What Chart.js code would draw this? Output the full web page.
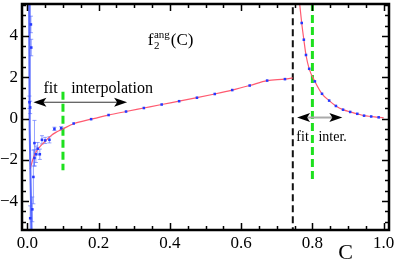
<!DOCTYPE html>
<html>
<head>
<meta charset="utf-8">
<script src="https://cdn.jsdelivr.net/npm/chart.js@4.4.0/dist/chart.umd.min.js"></script>
<style>
  html, body { margin: 0; padding: 0; background: #fff; }
  canvas { display: block; }
</style>
</head>
<body>
<canvas id="chart" width="395" height="262"></canvas>
<script>
// axis ticks
const xTicks = [0, 0.2, 0.4, 0.6, 0.8, 1.0];
const yTicks = [-4, -2, 0, 2, 4];

// steep blue fit close to C = 0
const blueFitC = [0.005, 0.006, 0.007, 0.009, 0.012];
const blueFitF = [5.6, 2.5, -0.5, -3.0, -5.5];

// measured points near C = 0 (with error bars)
const lowC = [0.010, 0.011, 0.008, 0.006, 0.020, 0.020, 0.024, 0.029, 0.035, 0.041, 0.050, 0.062, 0.017, 0.014, 0.008, 0.076, 0.095];
const lowF = [4.56, 3.44, 0.54, 0.79, -1.19, -1.91, -1.73, -1.46, -1.73, -1.03, -1.06, -1.03, -2.83, -4.40, -4.83, -0.50, -0.47];
const lowErr = [0.4, 0.4, 0.3, 0.3, 1.1, 0.4, 0.4, 0.3, 0.25, 0.2, 0.15, 0.15, 1.3, 0.6, 0.6, 0.08, 0.08];

// interpolation points
const midC = [0.130, 0.179, 0.228, 0.277, 0.327, 0.377, 0.426, 0.476, 0.526, 0.575, 0.624, 0.673, 0.723];
const midF = [-0.24, -0.03, 0.17, 0.34, 0.51, 0.68, 0.84, 1.01, 1.19, 1.38, 1.60, 1.84, 1.91];

// red fit + interpolation, left of the transition
const redLeftC = [0.008, 0.015, 0.025, 0.036, 0.050, 0.065, 0.080, 0.100, 0.130, 0.179, 0.228, 0.277, 0.327, 0.377, 0.426, 0.476, 0.526, 0.575, 0.624, 0.673, 0.723, 0.745];
const redLeftF = [-2.45, -2.0, -1.6, -1.35, -1.1, -0.85, -0.67, -0.50, -0.25, -0.03, 0.17, 0.34, 0.51, 0.68, 0.84, 1.01, 1.19, 1.38, 1.60, 1.84, 1.91, 1.97];

// right of the transition
const rightC = [0.770, 0.776, 0.782, 0.791, 0.807, 0.827, 0.847, 0.866, 0.886, 0.906, 0.926, 0.945, 0.965, 0.986];
const rightF = [4.63, 3.82, 3.08, 2.41, 1.80, 1.20, 0.87, 0.61, 0.43, 0.32, 0.23, 0.14, 0.10, 0.06];
const redRightC = [0.764, 0.770, 0.776, 0.782, 0.791, 0.807, 0.827, 0.847, 0.866, 0.886, 0.906, 0.926, 0.945, 0.965, 0.986, 1.000];
const redRightF = [5.60, 4.63, 3.82, 3.08, 2.41, 1.80, 1.20, 0.87, 0.61, 0.43, 0.32, 0.23, 0.14, 0.10, 0.06, 0.03];

// vertical markers
const transitionC = 0.745;
const greenC = [0.1, 0.8];
const greenTop = [1.3, 5.6];
const greenBottom = [-2.5, -3.0];

const serif = "'Liberation Serif', 'DejaVu Serif', serif";
const pts = (xs, ys) => xs.map((x, i) => ({ x: x, y: ys[i] }));

const decor = {
  id: 'decor',
  beforeDatasetsDraw(chart) {
    const { ctx } = chart;
    const xs = chart.scales.x, ys = chart.scales.y;
    ctx.save();
    ctx.strokeStyle = 'rgba(90,110,255,0.65)';
    ctx.lineWidth = 1;
    lowC.forEach((c, i) => {
      const px = xs.getPixelForValue(c);
      const p1 = ys.getPixelForValue(lowF[i] + lowErr[i]);
      const p2 = ys.getPixelForValue(lowF[i] - lowErr[i]);
      ctx.beginPath();
      ctx.moveTo(px, p1); ctx.lineTo(px, p2);
      ctx.moveTo(px - 2, p1); ctx.lineTo(px + 2, p1);
      ctx.moveTo(px - 2, p2); ctx.lineTo(px + 2, p2);
      ctx.stroke();
    });
    ctx.restore();
  },
  afterDatasetsDraw(chart) {
    const { ctx, chartArea: a } = chart;
    const xs = chart.scales.x, ys = chart.scales.y;
    ctx.save();

    // inward ticks on all four sides
    ctx.strokeStyle = '#000';
    ctx.lineWidth = 1.5;
    ctx.beginPath();
    for (let k = 0; k <= 20; k++) {
      const v = k * 0.05;
      const px = Math.round(xs.getPixelForValue(v)) + 0.5;
      const len = k % 4 === 0 ? 7 : 4;
      ctx.moveTo(px, a.bottom); ctx.lineTo(px, a.bottom - len);
      ctx.moveTo(px, a.top); ctx.lineTo(px, a.top + len);
    }
    for (let k = -10; k <= 11; k++) {
      const v = k * 0.5;
      const py = Math.round(ys.getPixelForValue(v)) + 0.5;
      const len = k % 4 === 0 ? 7 : 4;
      ctx.moveTo(a.left, py); ctx.lineTo(a.left + len, py);
      ctx.moveTo(a.right, py); ctx.lineTo(a.right - len, py);
    }
    ctx.stroke();

    // frame
    ctx.lineWidth = 2.5;
    ctx.strokeRect(a.left, a.top, a.right - a.left, a.bottom - a.top);

    // arrows
    const head = (x, y, dir) => {
      ctx.beginPath();
      ctx.moveTo(x, y);
      ctx.lineTo(x - dir * 13, y - 4.5);
      ctx.lineTo(x - dir * 10, y);
      ctx.lineTo(x - dir * 13, y + 4.5);
      ctx.closePath();
      ctx.fill();
    };
    const arrow = (c1, c2, f, color, w) => {
      const x1 = xs.getPixelForValue(c1), x2 = xs.getPixelForValue(c2);
      const y = ys.getPixelForValue(f);
      ctx.strokeStyle = color;
      ctx.lineWidth = w;
      ctx.beginPath(); ctx.moveTo(x1 + 8, y); ctx.lineTo(x2 - 8, y); ctx.stroke();
      ctx.fillStyle = '#000';
      head(x1, y, -1);
      head(x2, y, 1);
    };
    arrow(0.017, 0.28, 0.79, '#333', 1);
    arrow(0.757, 0.884, 0.05, '#aaa', 2);

    // labels inside the plot
    ctx.fillStyle = '#000';
    ctx.textBaseline = 'alphabetic';
    ctx.textAlign = 'left';
    ctx.font = '16px ' + serif;
    ctx.fillText('fit', xs.getPixelForValue(0.045), ys.getPixelForValue(1.25));
    ctx.fillText('interpolation', xs.getPixelForValue(0.123), ys.getPixelForValue(1.25));
    ctx.font = '14px ' + serif;
    ctx.fillText('fit', xs.getPixelForValue(0.755), ys.getPixelForValue(-1.1));
    ctx.fillText('inter.', xs.getPixelForValue(0.817), ys.getPixelForValue(-1.1));

    // f_2^ang(C)
    let tx = xs.getPixelForValue(0.338);
    const ty = ys.getPixelForValue(3.57);
    ctx.font = '17px ' + serif;
    ctx.fillText('f', tx, ty);
    tx += ctx.measureText('f').width + 0.5;
    ctx.font = '11px ' + serif;
    ctx.fillText('ang', tx, ty - 7);
    ctx.fillText('2', tx, ty + 4);
    tx += ctx.measureText('ang').width + 1;
    ctx.font = '17px ' + serif;
    ctx.fillText('(C)', tx, ty);

    // x axis title
    ctx.font = '22px ' + serif;
    ctx.textAlign = 'center';
    ctx.fillText('C', xs.getPixelForValue(0.893), a.bottom + 29);
    ctx.restore();
  }
};

new Chart(document.getElementById('chart'), {
  type: 'scatter',
  data: {
    datasets: [
      { data: pts(midC, midF), showLine: false, pointStyle: 'rect', pointRadius: 1.8,
        backgroundColor: '#2638ff', borderColor: '#2638ff', borderWidth: 0, order: 1 },
      { data: pts(rightC, rightF), showLine: false, pointStyle: 'rect', pointRadius: 1.8,
        backgroundColor: '#2638ff', borderColor: '#2638ff', borderWidth: 0, order: 1 },
      { data: pts(lowC, lowF), showLine: false, pointStyle: 'rect', pointRadius: 1.8,
        backgroundColor: '#2638ff', borderColor: '#2638ff', borderWidth: 0, order: 1 },
      { data: pts(redLeftC, redLeftF), showLine: true, pointRadius: 0, borderWidth: 1.2,
        borderColor: '#ff5a70', cubicInterpolationMode: 'monotone', order: 3 },
      { data: pts(redRightC, redRightF), showLine: true, pointRadius: 0, borderWidth: 1.2,
        borderColor: '#ff5a70', cubicInterpolationMode: 'monotone', order: 3 },
      { data: pts(blueFitC, blueFitF), showLine: true, pointRadius: 0, borderWidth: 2,
        borderColor: 'rgba(70,90,255,0.9)', order: 2 },
      { data: [{ x: transitionC, y: -5.6 }, { x: transitionC, y: 5.7 }], showLine: true, pointRadius: 0,
        borderWidth: 2, borderColor: '#111', borderDash: [7, 4], order: 4 },
      { data: [{ x: greenC[0], y: greenTop[0] }, { x: greenC[0], y: greenBottom[0] }], showLine: true, pointRadius: 0,
        borderWidth: 3, borderColor: '#1ee01e', borderDash: [8, 4], order: 4 },
      { data: [{ x: greenC[1], y: greenTop[1] }, { x: greenC[1], y: greenBottom[1] }], showLine: true, pointRadius: 0,
        borderWidth: 3, borderColor: '#1ee01e', borderDash: [8, 4], order: 4 }
    ]
  },
  options: {
    responsive: false,
    animation: false,
    devicePixelRatio: 1,
    layout: { padding: { left: 0, right: 6, top: 3, bottom: 0 } },
    plugins: { legend: { display: false }, tooltip: { enabled: false } },
    scales: {
      x: {
        type: 'linear', min: -0.015, max: 1.015,
        grid: { display: false, drawTicks: false },
        border: { display: false },
        afterBuildTicks: (s) => { s.ticks = xTicks.map(v => ({ value: v })); },
        afterFit: (s) => { s.height = 32; s.paddingLeft = 0; s.paddingRight = 0; },
        ticks: {
          padding: 3, color: '#000', maxRotation: 0, autoSkip: false,
          font: { family: serif, size: 17 },
          callback: (v) => Number(v).toFixed(1)
        }
      },
      y: {
        type: 'linear', min: -5.4, max: 5.55,
        grid: { display: false, drawTicks: false },
        border: { display: false },
        afterBuildTicks: (s) => { s.ticks = yTicks.map(v => ({ value: v })); },
        afterFit: (s) => { s.width = 22; s.paddingTop = 0; s.paddingBottom = 0; },
        ticks: {
          padding: 4, color: '#000',
          font: { family: serif, size: 17 },
          callback: (v) => (v < 0 ? '\u2212' + Math.abs(v) : String(v))
        }
      }
    }
  },
  plugins: [decor]
});
</script>
</body>
</html>
